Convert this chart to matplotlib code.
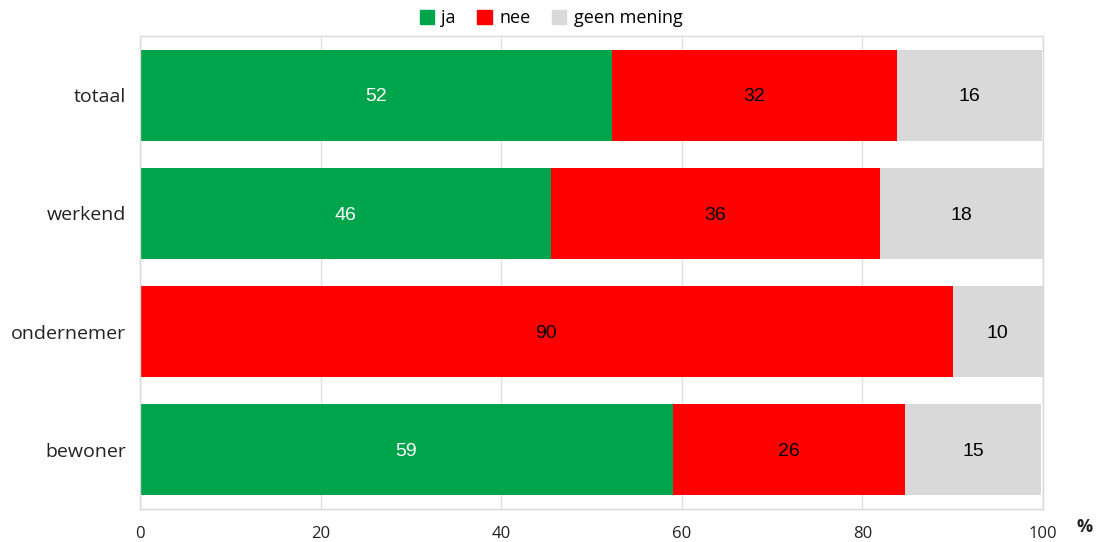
import matplotlib
matplotlib.use("Agg")
import matplotlib.pyplot as plt
from matplotlib.patches import Patch

categories = ["totaal", "werkend", "ondernemer", "bewoner"]
ja = [52.3, 45.5, 0.0, 59.0]
nee = [31.5, 36.4, 90.0, 25.7]
geen = [16.1, 18.1, 10.0, 15.1]
ja_lbl = ["52", "46", "", "59"]
nee_lbl = ["32", "36", "90", "26"]
geen_lbl = ["16", "18", "10", "15"]
xticks = [0, 20, 40, 60, 80, 100]

c_ja, c_nee, c_geen = "#00a44a", "#ff0000", "#d9d9d9"

fig = plt.figure(figsize=(11.02, 5.42), dpi=100)
ax = fig.add_axes([140/1102, 33/542, 903/1102, 473/542])

y = list(range(len(categories)))
h = 0.77
left2 = [a for a in ja]
left3 = [a + b for a, b in zip(ja, nee)]
b1 = ax.barh(y, ja, height=h, color=c_ja, zorder=2)
b2 = ax.barh(y, nee, left=left2, height=h, color=c_nee, zorder=2)
b3 = ax.barh(y, geen, left=left3, height=h, color=c_geen, zorder=2)

for bars, lbls, col in [(b1, ja_lbl, "white"), (b2, nee_lbl, "black"), (b3, geen_lbl, "black")]:
    for r, t in zip(bars, lbls):
        if t:
            ax.text(r.get_x() + r.get_width()/2, r.get_y() + r.get_height()/2 + 0.015, t,
                    ha="center", va="center", color=col, fontsize=14,
                    family="Liberation Sans", zorder=3)

ax.set_xlim(0, 100)
ax.set_ylim(len(categories) - 0.5, -0.5)
ax.set_yticks(y)
ax.set_yticklabels(categories, family="Open Sans", fontsize=14, color="#222222")
ax.set_xticks(xticks)
ax.set_xticklabels([str(v) for v in xticks], family="Open Sans", fontsize=12, color="#222222")
ax.tick_params(length=0)
ax.tick_params(axis="y", pad=10)
ax.tick_params(axis="x", pad=12)
ax.grid(axis="x", color="#e0e0e0", linewidth=1, zorder=0)
for s in ax.spines.values():
    s.set_color("#d9d9d9")
    s.set_linewidth(1)

fig.text(1085/1102, 1 - 527/542, "%", ha="center", va="center", fontsize=13,
         fontweight="bold", family="Open Sans", color="#222222")

handles = [Patch(color=c_ja, label="ja"), Patch(color=c_nee, label="nee"),
           Patch(color=c_geen, label="geen mening")]
fig.legend(handles=handles, loc="center", bbox_to_anchor=(0.5, 1 - 18/542), ncol=3,
           frameon=False, prop={"family": "Open Sans", "size": 13},
           handlelength=0.8, handleheight=0.8, handletextpad=0.4, columnspacing=1.2)

fig.savefig("out.png", dpi=100)
